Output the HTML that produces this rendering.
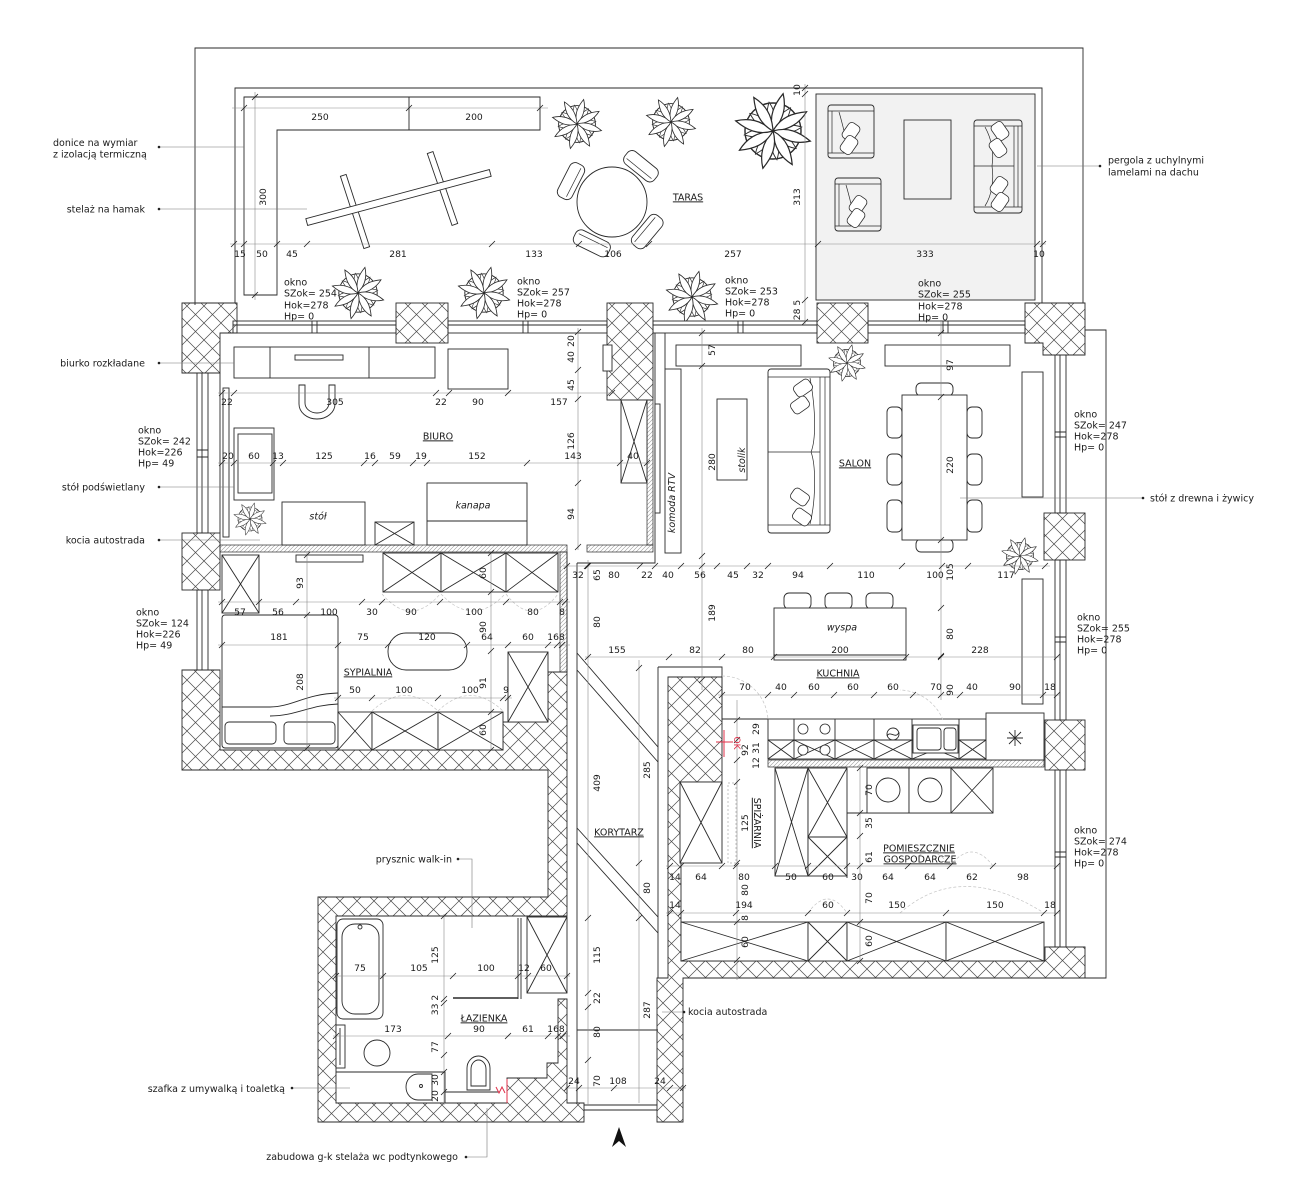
<!DOCTYPE html>
<html><head><meta charset="utf-8">
<style>
html,body{margin:0;padding:0;background:#fff;width:1294px;height:1200px;overflow:hidden}
svg{display:block}
text{font-family:"DejaVu Sans","Liberation Sans",sans-serif;font-size:9.5px;fill:#1a1a1a}
.d{font-size:9.2px}
.i{font-style:italic}
.u{text-decoration:underline}
.l,.f,.x{stroke:#2a2a2a;stroke-width:.9}
.l,.x{fill:none}
.f{fill:#fff}
.w{fill:url(#h);stroke:#2a2a2a;stroke-width:.9}
.wt{fill:url(#t);stroke:#2a2a2a;stroke-width:.7}
.dm{stroke:#8a8a8a;stroke-width:.6;fill:none}
.tk{stroke:#222;stroke-width:.8;fill:none}
.ds{stroke:#c4c4c4;stroke-width:.7;fill:none;stroke-dasharray:3 2}
.ld{stroke:#777;stroke-width:.6;fill:none}
.r{stroke:#e0304a;stroke-width:1;fill:none}
</style></head><body>
<svg width="1294" height="1200" viewBox="0 0 1294 1200" xmlns="http://www.w3.org/2000/svg">
<defs>
<pattern id="h" width="17" height="17" patternUnits="userSpaceOnUse"><path d="M0,0L17,17M17,0L0,17" stroke="#4a4a4a" stroke-width=".7" fill="none"/></pattern>
<pattern id="t" width="4" height="4" patternUnits="userSpaceOnUse"><path d="M-1,1L1,-1M0,4L4,0M3,5L5,3" stroke="#9a9a9a" stroke-width=".6"/></pattern>
<path id="lf" d="M0,0C5,-8 5,-15 2,-22C-2,-15 -4,-8 0,0Z" fill="#fff" stroke="#2a2a2a" stroke-width=".7"/>
<g id="pl">
<circle r="16" fill="none" stroke="#2a2a2a" stroke-width=".8"/>
<use href="#lf" transform="rotate(32) scale(.75)"/><use href="#lf" transform="rotate(77) scale(.75)"/><use href="#lf" transform="rotate(122) scale(.75)"/><use href="#lf" transform="rotate(167) scale(.75)"/><use href="#lf" transform="rotate(212) scale(.75)"/><use href="#lf" transform="rotate(257) scale(.75)"/><use href="#lf" transform="rotate(302) scale(.75)"/><use href="#lf" transform="rotate(347) scale(.75)"/>
<use href="#lf" transform="rotate(10)"/><use href="#lf" transform="rotate(55)"/><use href="#lf" transform="rotate(100)"/><use href="#lf" transform="rotate(145)"/><use href="#lf" transform="rotate(190)"/><use href="#lf" transform="rotate(235)"/><use href="#lf" transform="rotate(280)"/><use href="#lf" transform="rotate(325)"/>
</g>
<g id="ch"><rect x="-19" y="-8" width="38" height="16" rx="6" fill="#fff" stroke="#2a2a2a" stroke-width=".9"/><path d="M-16,3H16" stroke="#2a2a2a" stroke-width=".7"/></g>
<rect id="cu" x="-9" y="-6.5" width="18" height="13" rx="4" fill="#fff" stroke="#2a2a2a" stroke-width=".8"/>
<g id="ac"><rect x="0" y="0" width="46" height="53" rx="3" fill="#f2f2f2" stroke="#2a2a2a" stroke-width=".9"/><path d="M0,6H46M0,48H46M4,6V48" stroke="#2a2a2a" stroke-width=".7" fill="none"/><path d="M11,7C15,20 18,36 22,47" stroke="#2a2a2a" stroke-width=".7" fill="none"/><use href="#cu" transform="translate(23,27) rotate(-55)"/><use href="#cu" transform="translate(21,40) rotate(-55)"/></g>
</defs>

<rect width="1294" height="1200" fill="#fff"/>

<!-- TERRACE -->
<path class="l" d="M195,305V48H1083V303"/>
<path class="l" d="M235,303V88H1042V303"/>
<rect x="816" y="94" width="219" height="206" fill="#f2f2f2" stroke="#2a2a2a" stroke-width=".9"/>
<path class="l" d="M244,97H540V130H277V295H244Z M409,97V130"/>
<rect class="f" x="-38" y="-3" width="76" height="6" transform="translate(355,211.5) rotate(72)"/>
<rect class="f" x="-38" y="-3" width="76" height="6" transform="translate(442.5,188.5) rotate(71)"/>
<rect class="f" x="-95" y="-3.5" width="190" height="7" transform="translate(398.5,197.5) rotate(-15)"/>
<use href="#ch" transform="translate(612,202) rotate(-63) translate(0,-46)"/>
<use href="#ch" transform="translate(612,202) rotate(206) translate(0,-46)"/>
<use href="#ch" transform="translate(612,202) rotate(39) translate(0,-46)"/>
<use href="#ch" transform="translate(612,202) rotate(130) translate(0,-46)"/>
<circle class="f" cx="612" cy="202" r="35"/>
<use href="#ac" transform="translate(828,105)"/>
<use href="#ac" transform="translate(835,178)"/>
<rect x="904" y="120" width="47" height="79" fill="#f2f2f2" stroke="#2a2a2a" stroke-width=".9"/>
<rect x="974" y="120" width="48" height="93" rx="3" fill="#f2f2f2" stroke="#2a2a2a" stroke-width=".9"/>
<path class="l" style="stroke-width:.7" d="M974,126H1022M974,207H1022M974,166H1014M1014,126V207M1018,126V207M985,127C992,140 994,152 992,166C994,180 992,195 985,206"/>
<use href="#cu" transform="translate(1000,131) rotate(55)"/>
<use href="#cu" transform="translate(998,148) rotate(55)"/>
<use href="#cu" transform="translate(999,186) rotate(-55)"/>
<use href="#cu" transform="translate(1000,202) rotate(-55)"/>

<!-- plants -->
<use href="#pl" transform="translate(577,124) scale(1.15)"/>
<use href="#pl" transform="translate(671,122) scale(1.15)"/>
<use href="#pl" transform="translate(773,131) scale(1.75)"/>
<use href="#pl" transform="translate(358,293) scale(1.2)"/>
<use href="#pl" transform="translate(484,293) scale(1.2)"/>
<use href="#pl" transform="translate(692,297) scale(1.2)"/>

<!-- WINDOWS -->
<g>
<rect class="f" x="233" y="321" width="163" height="12"/><path class="l" d="M233,325H396M312,321V333M317,321V333"/>
<rect class="f" x="448" y="321" width="159" height="12"/><path class="l" d="M448,325H607M523,321V333M528,321V333"/>
<rect class="f" x="653" y="321" width="164" height="12"/><path class="l" d="M653,325H817M738,321V333M743,321V333"/>
<rect class="f" x="868" y="321" width="157" height="12"/><path class="l" d="M868,325H1025M943,321V333M948,321V333"/>
<rect class="f" x="1055" y="355" width="11" height="158"/><path class="l" d="M1060,355V513M1055,432H1066M1055,437H1066"/>
<rect class="f" x="1055" y="560" width="11" height="160"/><path class="l" d="M1060,560V720M1055,637H1066M1055,642H1066"/>
<rect class="f" x="1055" y="770" width="11" height="177"/><path class="l" d="M1060,770V947M1055,852H1066M1055,857H1066"/>
<rect class="f" x="197" y="373" width="11" height="160"/><path class="l" d="M202,373V533M197,450H208M197,457H208"/>
<rect class="f" x="197" y="590" width="11" height="80"/><path class="l" d="M202,590V670"/>
</g>
<path class="l" d="M1085,330H1106V978H1085"/>

<!-- WALLS -->
<path class="w" d="M182,303H237V333H220V373H182Z"/>
<rect class="w" x="396" y="303" width="52" height="40"/>
<rect class="w" x="607" y="303" width="46" height="97"/>
<rect class="w" x="817" y="303" width="51" height="40"/>
<path class="w" d="M1025,303H1085V355H1043V343H1025Z"/>
<rect class="w" x="182" y="533" width="38" height="57"/>
<rect class="w" x="1044" y="513" width="41" height="47"/>
<rect class="w" x="1045" y="720" width="40" height="50"/>
<path class="w" d="M668,677H722V782H681V961H1045V947H1085V978H683V1122H657V978H668Z"/>
<path class="w" d="M182,670H220V750H503V722H548V672H567V916H336V1103H507V1078H547V1063H558V999H567V1103H584V1122H318V897H548V770H182Z"/>
<rect class="wt" x="220" y="545" width="347" height="7"/>
<rect class="wt" x="587" y="545" width="66" height="7"/>
<rect class="wt" x="647" y="400" width="6" height="145"/>
<rect class="wt" x="560" y="552" width="7" height="120"/>
<rect class="wt" x="768" y="760" width="276" height="7"/>

<!-- interior lines -->
<path class="l" d="M220,373V533M655,333V563H577M665,333V369M567,552V672M577,563V1103M658,667V978M658,667H722V720M577,1030H658M584,1105H657M584,1110H657M847,813H993M847,813V878M722,719H768"/>
<!-- corridor diagonals -->
<path class="l" d="M577,653L658,747M577,670L658,762M577,828L658,917M577,843L658,933"/>

<!-- BIURO furniture -->
<rect class="f" x="234" y="347" width="201" height="31"/><path class="l" d="M270,347V378M369,347V378"/>
<rect class="f" x="295" y="355" width="48" height="5"/>
<rect class="f" x="448" y="349" width="60" height="40"/>
<path class="f" d="M299,385V404A18,15 0 0 0 335,404V385H329V403A12,10 0 0 1 305,403V385Z"/>
<rect class="f" x="223" y="388" width="6" height="149"/>
<rect class="f" x="234" y="428" width="40" height="72"/><rect class="f" x="238" y="434" width="34" height="59"/>
<rect class="f" x="282" y="502" width="83" height="43"/>
<rect class="f" x="375" y="522" width="39" height="23"/><path class="x" d="M375,522L414,545M414,522L375,545"/>
<rect class="f" x="427" y="483" width="100" height="62"/><path class="l" d="M427,521H527"/>
<rect class="f" x="603" y="345" width="9" height="26"/>
<rect class="f" x="621" y="400" width="26" height="83"/><path class="x" d="M621,400L647,483M647,400L621,483"/>
<rect class="f" x="655" y="404" width="5" height="109"/>
<rect class="f" x="665" y="369" width="16" height="184"/>
<use href="#pl" transform="translate(250,519) scale(.75)"/>

<!-- SYPIALNIA -->
<rect class="f" x="222" y="555" width="37" height="58"/><path class="x" d="M222,555L259,613M259,555L222,613"/>
<rect class="f" x="296" y="555" width="67" height="7"/>
<rect class="f" x="383" y="553" width="58" height="39"/><path class="x" d="M383,553L441,592M441,553L383,592"/>
<rect class="f" x="441" y="553" width="65" height="39"/><path class="x" d="M441,553L506,592M506,553L441,592"/>
<rect class="f" x="506" y="553" width="52" height="39"/><path class="x" d="M506,553L558,592M558,553L506,592"/>
<rect class="f" x="222" y="615" width="116" height="133" rx="3"/>
<path class="l" d="M222,707H270C292,707 305,694 338,693M270,716C296,716 310,705 338,704"/>
<rect class="f" x="225" y="722" width="51" height="22" rx="4"/>
<rect class="f" x="284" y="722" width="51" height="22" rx="4"/>
<rect class="f" x="388" y="633" width="79" height="37" rx="18"/>
<rect class="f" x="338" y="712" width="34" height="38"/><path class="x" d="M338,712L372,750M372,712L338,750"/>
<rect class="f" x="372" y="712" width="66" height="38"/><path class="x" d="M372,712L438,750M438,712L372,750"/>
<rect class="f" x="438" y="712" width="65" height="38"/><path class="x" d="M438,712L503,750M503,712L438,750"/>
<rect class="f" x="508" y="652" width="40" height="70"/><path class="x" d="M508,652L548,722M548,652L508,722"/>
<path class="ds" d="M382,594Q411,628 440,594M441,594Q473,628 505,594M506,594Q532,628 558,594M372,711Q405,680 438,711M438,711Q470,680 503,711"/>

<!-- SALON -->
<rect class="f" x="676" y="345" width="125" height="21"/>
<rect class="f" x="885" y="345" width="125" height="21"/>
<rect class="f" x="1022" y="372" width="21" height="125"/>
<rect class="f" x="717" y="399" width="30" height="81"/>
<rect class="f" x="768" y="369" width="62" height="164" rx="3"/>
<path class="l" style="stroke-width:.7" d="M768,377H830M768,525H830M768,452H820M820,377V525M825,377V525M810,378C816,410 816,440 811,452C816,465 816,500 810,524"/>
<use href="#cu" transform="translate(803,388) rotate(-35)"/>
<use href="#cu" transform="translate(800,405) rotate(-35)"/>
<use href="#cu" transform="translate(800,497) rotate(35)"/>
<use href="#cu" transform="translate(802,517) rotate(35)"/>
<rect class="f" x="916" y="383" width="37" height="13" rx="5"/>
<rect class="f" x="916" y="539" width="37" height="13" rx="5"/>
<rect class="f" x="887" y="407" width="15" height="31" rx="5"/><rect class="f" x="887" y="454" width="15" height="31" rx="5"/><rect class="f" x="887" y="500" width="15" height="32" rx="5"/>
<rect class="f" x="967" y="407" width="15" height="31" rx="5"/><rect class="f" x="967" y="454" width="15" height="31" rx="5"/><rect class="f" x="967" y="500" width="15" height="32" rx="5"/>
<rect class="f" x="902" y="395" width="65" height="145"/>
<use href="#pl" transform="translate(847,363) scale(.85)"/>
<use href="#pl" transform="translate(1020,556) scale(.85)"/>

<!-- KUCHNIA -->
<rect class="f" x="784" y="593" width="27" height="16" rx="5"/>
<rect class="f" x="825" y="593" width="27" height="16" rx="5"/>
<rect class="f" x="866" y="593" width="27" height="16" rx="5"/>
<rect class="f" x="774" y="608" width="132" height="52"/><path class="l" d="M774,655H906"/>
<rect class="f" x="1022" y="579" width="21" height="125"/>
<rect class="f" x="768" y="719" width="218" height="40"/>
<path class="l" d="M768,740H986M794,719V759M835,719V759M874,719V759M912,719V759M959,719V759"/>
<path class="x" d="M768,740L794,759M794,740L768,759M794,740L835,759M835,740L794,759M835,740L874,759M874,740L835,759M874,740L912,759M912,740L874,759M912,740L959,759M959,740L912,759M959,740L986,759M986,740L959,759"/>
<g fill="#fff" stroke="#2a2a2a" stroke-width=".8"><circle cx="803" cy="729" r="5"/><circle cx="825" cy="729" r="5"/><circle cx="803" cy="750" r="5"/><circle cx="825" cy="750" r="5"/></g>
<rect class="f" x="913" y="725" width="45" height="28"/><rect class="f" x="917" y="728" width="24" height="22" rx="3"/><rect class="f" x="944" y="728" width="12" height="22" rx="3"/>
<circle class="l" cx="893" cy="734" r="6"/><path class="l" d="M887,736C890,730 896,740 899,732"/>
<rect class="f" x="986" y="713" width="58" height="47"/>
<path class="l" d="M1007,738H1023M1015,730V746M1009,732L1021,744M1021,732L1009,744"/>
<path class="ds" d="M722,676A46,46 0 0 1 768,720M943,720A48,48 0 0 0 900,690"/>

<!-- SPIZARNIA / POMIESZCZENIE -->
<rect class="f" x="680" y="782" width="42" height="81"/><path class="x" d="M680,782L722,863M722,782L680,863"/>
<rect x="728" y="783" width="8" height="80" fill="none" stroke="#aaa" stroke-width=".7" stroke-dasharray="2 2"/>
<rect class="f" x="775" y="768" width="33" height="108"/><path class="x" d="M775,768L808,876M808,768L775,876"/>
<rect class="f" x="808" y="768" width="39" height="108"/><path class="l" d="M808,837H847"/><path class="x" d="M808,768L847,837M847,768L808,837M808,837L847,876M847,837L808,876"/>
<rect class="f" x="867" y="768" width="42" height="45"/><circle class="l" cx="888" cy="790" r="12"/>
<rect class="f" x="909" y="768" width="42" height="45"/><circle class="l" cx="930" cy="790" r="12"/>
<rect class="f" x="951" y="768" width="42" height="45"/><path class="x" d="M951,768L993,813M993,768L951,813"/>
<path class="ds" d="M908,866Q930,838 950,866M950,866Q972,838 993,866M808,913Q828,885 847,913M900,913Q960,860 1044,913"/>
<rect class="f" x="681" y="922" width="127" height="39"/><path class="x" d="M681,922L808,961M808,922L681,961"/>
<rect class="f" x="808" y="922" width="39" height="39"/><path class="x" d="M808,922L847,961M847,922L808,961"/>
<rect class="f" x="847" y="922" width="99" height="39"/><path class="x" d="M847,922L946,961M946,922L847,961"/>
<rect class="f" x="946" y="922" width="98" height="39"/><path class="x" d="M946,922L1044,961M1044,922L946,961"/>

<!-- LAZIENKA -->
<rect class="f" x="337" y="919" width="46" height="100" rx="6"/>
<rect class="f" x="342" y="924" width="37" height="90" rx="13"/>
<circle class="l" cx="360" cy="927" r="2"/>
<rect class="f" x="336" y="1025" width="9" height="43"/><path class="l" d="M340,1028V1065"/>
<circle class="l" cx="377" cy="1053" r="13"/>
<path class="l" d="M336,1072H445V1103"/>
<path class="f" d="M432,1074H418A12,13 0 0 0 418,1100H432Z"/>
<circle class="l" cx="421" cy="1086" r="1.5"/>
<path class="f" d="M467,1090V1068A11.5,12 0 0 1 490,1068V1090Z"/>
<path class="l" d="M471,1086V1069A7.5,9 0 0 1 486,1069V1086Z"/>
<path class="l" d="M445,1092H500"/>
<path class="l" style="stroke-width:1.4" d="M453,998H518"/>
<path class="l" d="M518,918V999M521,918V999"/>
<rect class="f" x="527" y="917" width="40" height="76"/><path class="x" d="M527,917L567,993M567,917L527,993"/>
<path class="r" d="M507,1079V1103M496,1087l3,6l3,-6l3,6"/>
<path class="r" d="M724,730V757M716,742H733"/>

<!-- DIMENSION LINES -->
<path class="dm" d="M232,108H548M255,92V300M230,244H1046M805,84V324
M218,393H615M218,463H650M578,328V550
M563,566H1050M702,328V690M941,320V700M585,657H1060M718,695H1060M588,560V1105M639,660V1103
M218,602H570M218,645H570M334,698H512M307,553V750M491,553V750
M737,700V980M666,866H1060M666,913H1060M860,765V962
M333,976H570M333,1036H570M444,914V1105M565,1088H686"/>
<path class="tk" d="M241,111l6,-6M406,111l6,-6M537,111l6,-6M252,100l6,-6M252,298l6,-6
M231,247l6,-6M241,247l6,-6M274,247l6,-6M304,247l6,-6M489,247l6,-6M576,247l6,-6M646,247l6,-6M815,247l6,-6M1034,247l6,-6M1040,247l6,-6
M802,91l6,-6M802,97l6,-6M802,303l6,-6M802,325l6,-6
M219,396l6,-6M231,396l6,-6M433,396l6,-6M446,396l6,-6M505,396l6,-6M609,396l6,-6
M219,466l6,-6M231,466l6,-6M270,466l6,-6M280,466l6,-6M361,466l6,-6M372,466l6,-6M410,466l6,-6M424,466l6,-6M524,466l6,-6M617,466l6,-6M644,466l6,-6
M575,335l6,-6M575,373l6,-6M575,402l6,-6M575,486l6,-6M575,550l6,-6
M564,569l6,-6M584,569l6,-6M637,569l6,-6M652,569l6,-6M678,569l6,-6M699,569l6,-6M714,569l6,-6M744,569l6,-6M765,569l6,-6M827,569l6,-6M899,569l6,-6M939,569l6,-6M965,569l6,-6M1042,569l6,-6
M699,336l6,-6M699,369l6,-6M699,559l6,-6M699,683l6,-6
M938,336l6,-6M938,400l6,-6M938,543l6,-6M938,611l6,-6M938,659l6,-6M938,698l6,-6
M585,660l6,-6M666,660l6,-6M719,660l6,-6M771,660l6,-6M903,660l6,-6M938,660l6,-6M1054,660l6,-6
M719,698l6,-6M765,698l6,-6M791,698l6,-6M831,698l6,-6M871,698l6,-6M910,698l6,-6M938,698l6,-6M957,698l6,-6M1040,698l6,-6M1054,698l6,-6
M585,569l6,-6M585,660l6,-6M585,921l6,-6M585,996l6,-6M585,1010l6,-6M585,1063l6,-6M636,671l6,-6M636,866l6,-6M636,921l6,-6
M219,605l6,-6M256,605l6,-6M293,605l6,-6M359,605l6,-6M379,605l6,-6M437,605l6,-6M503,605l6,-6M557,605l6,-6M562,605l6,-6
M219,648l6,-6M335,648l6,-6M385,648l6,-6M464,648l6,-6M505,648l6,-6M545,648l6,-6M554,648l6,-6M559,648l6,-6
M335,701l6,-6M369,701l6,-6M435,701l6,-6M500,701l6,-6M505,701l6,-6
M304,558l6,-6M304,618l6,-6M304,751l6,-6M488,556l6,-6M488,595l6,-6M488,654l6,-6M488,715l6,-6M488,753l6,-6
M734,723l6,-6M734,743l6,-6M734,763l6,-6M734,785l6,-6M734,866l6,-6M734,925l6,-6M734,963l6,-6
M667,869l6,-6M678,869l6,-6M719,869l6,-6M733,869l6,-6M772,869l6,-6M805,869l6,-6M844,869l6,-6M857,869l6,-6M905,869l6,-6M947,869l6,-6M990,869l6,-6M1054,869l6,-6
M667,916l6,-6M678,916l6,-6M733,916l6,-6M805,916l6,-6M844,916l6,-6M943,916l6,-6M1041,916l6,-6M1054,916l6,-6
M857,771l6,-6M857,816l6,-6M857,839l6,-6M857,869l6,-6M857,925l6,-6M857,964l6,-6
M333,979l6,-6M380,979l6,-6M450,979l6,-6M515,979l6,-6M525,979l6,-6M564,979l6,-6
M333,1039l6,-6M445,1039l6,-6M505,1039l6,-6M545,1039l6,-6M555,1039l6,-6M560,1039l6,-6
M441,919l6,-6M441,1002l6,-6M441,1006l6,-6M441,1058l6,-6M441,1075l6,-6M441,1095l6,-6
M564,1091l6,-6M576,1091l6,-6M611,1091l6,-6M667,1091l6,-6M680,1091l6,-6"/>

<!-- DIMENSION TEXT horizontal -->
<g class="d" text-anchor="middle">
<text class="d" x="320" y="120.2">250</text><text class="d" x="474" y="120.2">200</text>
<text class="d" x="240" y="257.2">15</text><text class="d" x="262" y="257.2">50</text><text class="d" x="292" y="257.2">45</text><text class="d" x="398" y="257.2">281</text><text class="d" x="534" y="257.2">133</text><text class="d" x="613" y="257.2">106</text><text class="d" x="733" y="257.2">257</text><text class="d" x="925" y="257.2">333</text><text class="d" x="1039" y="257.2">10</text>
<text class="d" x="227" y="405.2">22</text><text class="d" x="335" y="405.2">305</text><text class="d" x="441" y="405.2">22</text><text class="d" x="478" y="405.2">90</text><text class="d" x="559" y="405.2">157</text>
<text class="d" x="228" y="459.2">20</text><text class="d" x="254" y="459.2">60</text><text class="d" x="278" y="459.2">13</text><text class="d" x="324" y="459.2">125</text><text class="d" x="370" y="459.2">16</text><text class="d" x="395" y="459.2">59</text><text class="d" x="421" y="459.2">19</text><text class="d" x="477" y="459.2">152</text><text class="d" x="573" y="459.2">143</text><text class="d" x="633" y="459.2">40</text>
<text class="d" x="578" y="578.2">32</text><text class="d" x="614" y="578.2">80</text><text class="d" x="647" y="578.2">22</text><text class="d" x="668" y="578.2">40</text><text class="d" x="700" y="578.2">56</text><text class="d" x="733" y="578.2">45</text><text class="d" x="758" y="578.2">32</text><text class="d" x="798" y="578.2">94</text><text class="d" x="866" y="578.2">110</text><text class="d" x="935" y="578.2">100</text><text class="d" x="1006" y="578.2">117</text>
<text class="d" x="617" y="653.2">155</text><text class="d" x="695" y="653.2">82</text><text class="d" x="748" y="653.2">80</text><text class="d" x="840" y="653.2">200</text><text class="d" x="980" y="653.2">228</text>
<text class="d" x="745" y="690.2">70</text><text class="d" x="781" y="690.2">40</text><text class="d" x="814" y="690.2">60</text><text class="d" x="853" y="690.2">60</text><text class="d" x="893" y="690.2">60</text><text class="d" x="936" y="690.2">70</text><text class="d" x="972" y="690.2">40</text><text class="d" x="1015" y="690.2">90</text><text class="d" x="1050" y="690.2">18</text>
<text class="d" x="675" y="880.2">14</text><text class="d" x="701" y="880.2">64</text><text class="d" x="744" y="880.2">80</text><text class="d" x="791" y="880.2">50</text><text class="d" x="828" y="880.2">60</text><text class="d" x="857" y="880.2">30</text><text class="d" x="888" y="880.2">64</text><text class="d" x="930" y="880.2">64</text><text class="d" x="972" y="880.2">62</text><text class="d" x="1023" y="880.2">98</text>
<text class="d" x="675" y="908.2">14</text><text class="d" x="744" y="908.2">194</text><text class="d" x="828" y="908.2">60</text><text class="d" x="897" y="908.2">150</text><text class="d" x="995" y="908.2">150</text><text class="d" x="1050" y="908.2">18</text>
<text class="d" x="240" y="615.2">57</text><text class="d" x="278" y="615.2">56</text><text class="d" x="329" y="615.2">100</text><text class="d" x="372" y="615.2">30</text><text class="d" x="411" y="615.2">90</text><text class="d" x="474" y="615.2">100</text><text class="d" x="533" y="615.2">80</text><text class="d" x="562" y="615.2">8</text>
<text class="d" x="279" y="640.2">181</text><text class="d" x="363" y="640.2">75</text><text class="d" x="427" y="640.2">120</text><text class="d" x="487" y="640.2">64</text><text class="d" x="528" y="640.2">60</text><text class="d" x="556" y="640.2">168</text>
<text class="d" x="355" y="693.2">50</text><text class="d" x="404" y="693.2">100</text><text class="d" x="470" y="693.2">100</text><text class="d" x="506" y="693.2">9</text>
<text class="d" x="574" y="1084.2">24</text><text class="d" x="618" y="1084.2">108</text><text class="d" x="660" y="1084.2">24</text>
<text class="d" x="360" y="971.2">75</text><text class="d" x="419" y="971.2">105</text><text class="d" x="486" y="971.2">100</text><text class="d" x="524" y="971.2">12</text><text class="d" x="546" y="971.2">60</text>
<text class="d" x="393" y="1032.2">173</text><text class="d" x="479" y="1032.2">90</text><text class="d" x="528" y="1032.2">61</text><text class="d" x="556" y="1032.2">168</text>
</g>
<!-- DIMENSION TEXT rotated -->
<g text-anchor="middle">
<text class="d" transform="translate(266.2,197) rotate(-90)">300</text>
<text class="d" transform="translate(800.2,90) rotate(-90)">10</text>
<text class="d" transform="translate(800.2,197) rotate(-90)">313</text>
<text class="d" transform="translate(800.2,310) rotate(-90)">28 5</text>
<text class="d" transform="translate(574.2,341) rotate(-90)">20</text>
<text class="d" transform="translate(574.2,357) rotate(-90)">40</text>
<text class="d" transform="translate(574.2,385) rotate(-90)">45</text>
<text class="d" transform="translate(574.2,441) rotate(-90)">126</text>
<text class="d" transform="translate(574.2,514) rotate(-90)">94</text>
<text class="d" transform="translate(600.2,575) rotate(-90)">65</text>
<text class="d" transform="translate(953.2,572) rotate(-90)">105</text>
<text class="d" transform="translate(715.2,350) rotate(-90)">57</text>
<text class="d" transform="translate(715.2,462) rotate(-90)">280</text>
<text class="d" transform="translate(715.2,613) rotate(-90)">189</text>
<text class="d" transform="translate(953.2,365) rotate(-90)">97</text>
<text class="d" transform="translate(953.2,465) rotate(-90)">220</text>
<text class="d" transform="translate(953.2,634) rotate(-90)">80</text>
<text class="d" transform="translate(953.2,690) rotate(-90)">90</text>
<text class="d" transform="translate(600.2,622) rotate(-90)">80</text>
<text class="d" transform="translate(759.2,729) rotate(-90)">29</text>
<text class="d" transform="translate(759.2,748) rotate(-90)">31</text>
<text class="d" transform="translate(748.2,750) rotate(-90)">92</text>
<text class="d" transform="translate(759.2,763) rotate(-90)">12</text>
<text class="d" transform="translate(748.2,823) rotate(-90)">125</text>
<text class="d" transform="translate(872.2,790) rotate(-90)">70</text>
<text class="d" transform="translate(872.2,823) rotate(-90)">35</text>
<text class="d" transform="translate(872.2,857) rotate(-90)">61</text>
<text class="d" transform="translate(872.2,898) rotate(-90)">70</text>
<text class="d" transform="translate(872.2,941) rotate(-90)">60</text>
<text class="d" transform="translate(748.2,890) rotate(-90)">80</text>
<text class="d" transform="translate(748.2,918) rotate(-90)">8</text>
<text class="d" transform="translate(748.2,942) rotate(-90)">60</text>
<text class="d" transform="translate(303.2,583) rotate(-90)">93</text>
<text class="d" transform="translate(303.2,682) rotate(-90)">208</text>
<text class="d" transform="translate(486.2,573) rotate(-90)">60</text>
<text class="d" transform="translate(486.2,627) rotate(-90)">90</text>
<text class="d" transform="translate(486.2,683) rotate(-90)">91</text>
<text class="d" transform="translate(486.2,730) rotate(-90)">60</text>
<text class="d" transform="translate(600.2,783) rotate(-90)">409</text>
<text class="d" transform="translate(650.2,770) rotate(-90)">285</text>
<text class="d" transform="translate(650.2,888) rotate(-90)">80</text>
<text class="d" transform="translate(600.2,955) rotate(-90)">115</text>
<text class="d" transform="translate(600.2,998) rotate(-90)">22</text>
<text class="d" transform="translate(650.2,1010) rotate(-90)">287</text>
<text class="d" transform="translate(600.2,1032) rotate(-90)">80</text>
<text class="d" transform="translate(600.2,1081) rotate(-90)">70</text>
<text class="d" transform="translate(438.2,955) rotate(-90)">125</text>
<text class="d" transform="translate(438.2,1005) rotate(-90)">33 2</text>
<text class="d" transform="translate(438.2,1047) rotate(-90)">77</text>
<text class="d" transform="translate(438.2,1080) rotate(-90)">30</text>
<text class="d" transform="translate(438.2,1096) rotate(-90)">20</text>
</g>
<text transform="translate(734,743) rotate(90)" text-anchor="middle" style="fill:#e0304a;font-size:9px">OK</text>

<!-- ROOM LABELS -->
<g text-anchor="middle">
<text class="u" x="688" y="200.4">TARAS</text>
<text class="u" x="438" y="439.4">BIURO</text>
<text class="u" x="855" y="466.4">SALON</text>
<text class="u" x="368" y="675.4">SYPIALNIA</text>
<text class="u" x="838" y="676.4">KUCHNIA</text>
<text class="u" x="619" y="835.4">KORYTARZ</text>
<text class="u" x="484" y="1021.4">ŁAZIENKA</text>
<text class="u" x="919" y="851.4">POMIESZCZNIE</text>
<text class="u" x="920" y="862.4">GOSPODARCZE</text>
<text class="u" transform="translate(753.8,823) rotate(90)">SPIŻARNIA</text>
</g>
<g text-anchor="middle">
<text class="i" x="318" y="519.4">stół</text>
<text class="i" x="473" y="508.4">kanapa</text>
<text class="i" x="842" y="630.4">wyspa</text>
<text class="i" transform="translate(745.2,460) rotate(-90)">stolik</text>
<text class="i" transform="translate(675.2,503) rotate(-90)">komoda RTV</text>
</g>

<!-- OKNO BLOCKS -->
<g>
<text x="284" y="285.4">okno</text><text x="284" y="296.4">SZok= 254</text><text x="284" y="308.4">Hok=278</text><text x="284" y="319.4">Hp= 0</text>
<text x="517" y="284.4">okno</text><text x="517" y="295.4">SZok= 257</text><text x="517" y="306.4">Hok=278</text><text x="517" y="317.4">Hp= 0</text>
<text x="725" y="283.4">okno</text><text x="725" y="294.4">SZok= 253</text><text x="725" y="305.4">Hok=278</text><text x="725" y="316.4">Hp= 0</text>
<text x="918" y="286.4">okno</text><text x="918" y="297.4">SZok= 255</text><text x="918" y="309.4">Hok=278</text><text x="918" y="320.4">Hp= 0</text>
<text x="138" y="433.4">okno</text><text x="138" y="444.4">SZok= 242</text><text x="138" y="455.4">Hok=226</text><text x="138" y="466.4">Hp= 49</text>
<text x="136" y="615.4">okno</text><text x="136" y="626.4">SZok= 124</text><text x="136" y="637.4">Hok=226</text><text x="136" y="648.4">Hp= 49</text>
<text x="1074" y="417.4">okno</text><text x="1074" y="428.4">SZok= 247</text><text x="1074" y="439.4">Hok=278</text><text x="1074" y="450.4">Hp= 0</text>
<text x="1077" y="620.4">okno</text><text x="1077" y="631.4">SZok= 255</text><text x="1077" y="642.4">Hok=278</text><text x="1077" y="653.4">Hp= 0</text>
<text x="1074" y="833.4">okno</text><text x="1074" y="844.4">SZok= 274</text><text x="1074" y="855.4">Hok=278</text><text x="1074" y="866.4">Hp= 0</text>
</g>

<!-- CALLOUTS -->
<path class="ld" d="M159,147H244M159,209H307M1037,166H1100M159,363H234M159,487H234M159,540H260M292,1088H350M466,1157H487V1108M458,859H472V928M662,1012H684M960,498H1143"/>
<g fill="#222"><circle cx="159" cy="147" r="1.3"/><circle cx="159" cy="209" r="1.3"/><circle cx="1100" cy="166" r="1.3"/><circle cx="159" cy="363" r="1.3"/><circle cx="159" cy="487" r="1.3"/><circle cx="159" cy="540" r="1.3"/><circle cx="292" cy="1088" r="1.3"/><circle cx="466" cy="1157" r="1.3"/><circle cx="458" cy="859" r="1.3"/><circle cx="684" cy="1012" r="1.3"/><circle cx="1143" cy="498" r="1.3"/></g>
<text x="53" y="146">donice na wymiar</text>
<text x="53" y="157.5">z izolacją termiczną</text>
<text x="145" y="212.5" text-anchor="end">stelaż na hamak</text>
<text x="145" y="366.5" text-anchor="end">biurko rozkładane</text>
<text x="145" y="490.5" text-anchor="end">stół podświetlany</text>
<text x="145" y="543.5" text-anchor="end">kocia autostrada</text>
<text x="1108" y="163.5">pergola z uchylnymi</text>
<text x="1108" y="175.5">lamelami na dachu</text>
<text x="1150" y="501.5">stół z drewna i żywicy</text>
<text x="285" y="1092" text-anchor="end">szafka z umywalką i toaletką</text>
<text x="458" y="1160" text-anchor="end">zabudowa g-k stelaża wc podtynkowego</text>
<text x="452" y="862.5" text-anchor="end">prysznic walk-in</text>
<text x="688" y="1015">kocia autostrada</text>

<!-- north arrow -->
<path d="M619,1127L626,1147L619,1141L612,1147Z" fill="#111"/>
</svg>
</body></html>
